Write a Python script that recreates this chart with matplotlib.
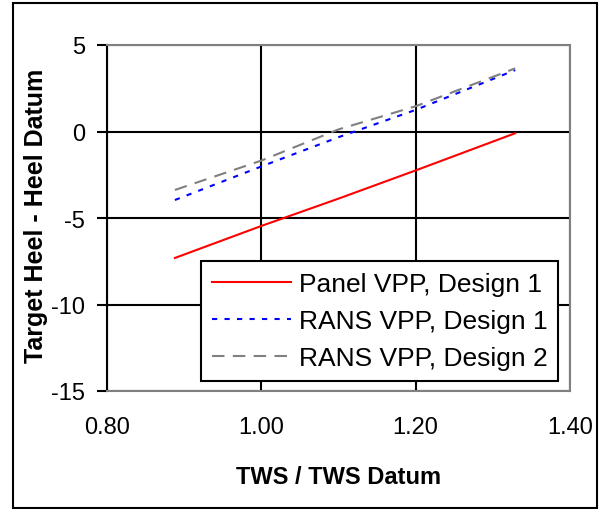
import matplotlib
matplotlib.use('Agg')
import matplotlib.pyplot as plt
from matplotlib.patches import Rectangle

# data
tws_ratio = [0.888, 1.0, 1.1, 1.2, 1.329]
panel_d1 = [-7.31, -5.46, -3.88, -2.25, -0.10]
rans_d1 = [-3.96, -2.02, -0.33, 1.25, 3.55]
rans_d2 = [-3.38, -1.68, 0.12, 1.46, 3.65]

x_ticks = [0.8, 1.0, 1.2, 1.4]
y_ticks = [-15, -10, -5, 0, 5]

plt.rcParams['font.family'] = ['Liberation Sans', 'DejaVu Sans']
plt.rcParams['axes.unicode_minus'] = False

fig = plt.figure(figsize=(5.99, 5.10), dpi=100)
ax = fig.add_axes([107 / 599, 1 - 392 / 510, 463 / 599, 346 / 510])

ax.plot(tws_ratio, panel_d1, color='#ff0000', lw=1.5, label='Panel VPP, Design 1')
ax.plot(tws_ratio, rans_d1, color='#0000ff', lw=1.5, dashes=(2.5, 3.5),
        label='RANS VPP, Design 1')
ax.plot(tws_ratio, rans_d2, color='#808080', lw=1.5, dashes=(6, 4),
        label='RANS VPP, Design 2')

ax.set_xlim(0.8, 1.4)
ax.set_ylim(-15, 5)
ax.set_xticks(x_ticks)
ax.set_xticklabels([f'{v:.2f}' for v in x_ticks])
ax.set_yticks(y_ticks)
ax.grid(True, color='black', lw=1.5)
ax.set_axisbelow(True)

for side in ['top', 'right', 'bottom']:
    ax.spines[side].set_color('#808080')
    ax.spines[side].set_linewidth(1.5)
ax.spines['left'].set_color('black')
ax.spines['left'].set_linewidth(1.5)

ax.tick_params(axis='x', length=0, pad=18, labelsize=17)
ax.tick_params(axis='y', length=7, width=1.5, pad=9, labelsize=17, direction='out')

ax.set_xlabel('TWS / TWS Datum', fontsize=17, fontweight='bold')
ax.set_ylabel('Target Heel - Heel Datum', fontsize=18, fontweight='bold')
ax.xaxis.set_label_coords(0.5, -0.215)
ax.yaxis.set_label_coords(-0.128, 0.51)

leg = ax.legend(loc='lower right', bbox_to_anchor=(0.974, 0.029), fontsize=19,
                frameon=True, fancybox=False, edgecolor='black', framealpha=1,
                handlelength=3.0, handletextpad=0.3, borderpad=0.4,
                labelspacing=0.5, borderaxespad=0)
leg.get_frame().set_linewidth(1.5)

# outer chart border
fig.patches.append(Rectangle((13 / 599, 1 - 509 / 510), 584 / 599, 505 / 510,
                             transform=fig.transFigure, fill=False,
                             edgecolor='black', lw=1.5))

fig.savefig('out.png', dpi=100)
